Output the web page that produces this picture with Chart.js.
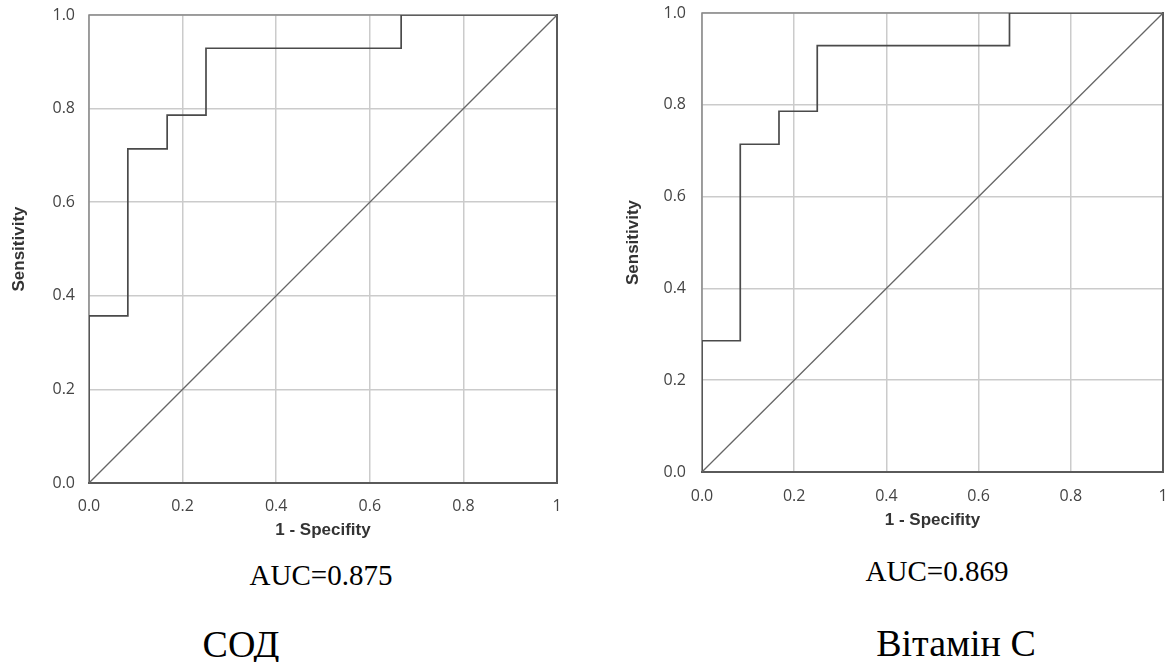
<!DOCTYPE html>
<html>
<head>
<meta charset="utf-8">
<script src="https://cdn.jsdelivr.net/npm/chart.js@4.4.1/dist/chart.umd.min.js"></script>
<style>
    html, body { margin: 0; padding: 0; background: #fff; }
    body { width: 1171px; height: 662px; position: relative; overflow: hidden; }
    canvas { position: absolute; }
    .cap {
        position: absolute;
        width: 400px;
        text-align: center;
        font-family: "Liberation Serif", "Times New Roman", serif;
        line-height: 1;
        color: #000;
        white-space: nowrap;
    }
</style>
</head>
<body>
<canvas id="sodChart" width="580" height="545" style="left:0px;top:0px"></canvas>
<canvas id="vitChart" width="571" height="545" style="left:600px;top:0px"></canvas>
<div class="cap" style="left:121px;top:561px;font-size:29px">AUC=0.875</div>
<div class="cap" style="left:737px;top:557px;font-size:29px">AUC=0.869</div>
<div class="cap" style="left:41px;top:625px;font-size:38px">СОД</div>
<div class="cap" style="left:756px;top:624px;font-size:38px">Вітамін С</div>
<script>
// ROC points (1 - specificity, sensitivity)
const sodFpr = [0, 0, 0.083, 0.167, 0.25, 0.667, 1];
const sodTpr = [0, 0.357, 0.714, 0.786, 0.929, 1, 1];
const vitFpr = [0, 0, 0.083, 0.167, 0.25, 0.667, 1];
const vitTpr = [0, 0.286, 0.714, 0.786, 0.929, 1, 1];

// reference diagonal
const refX = [0, 1];
const refY = [0, 1];

const xTickLabels = ['0.0', '0.2', '0.4', '0.6', '0.8', '1'];
const yTickLabels = ['0.0', '0.2', '0.4', '0.6', '0.8', '1.0'];

const xTitle = '1 - Specifity';
const yTitle = 'Sensitivity';

// frame round the plot area
const framePlugin = {
    id: 'frame',
    beforeDatasetsDraw(chart) {
        const { ctx, chartArea: a } = chart;
        ctx.save();
        ctx.lineCap = 'square';
        ctx.strokeStyle = '#8a8a8a';
        ctx.lineWidth = 1.5;
        ctx.beginPath();
        ctx.moveTo(a.left, a.bottom);
        ctx.lineTo(a.left, a.top);
        ctx.lineTo(a.right, a.top);
        ctx.stroke();
        ctx.strokeStyle = '#5a5a5a';
        ctx.lineWidth = 2;
        ctx.beginPath();
        ctx.moveTo(a.left, a.bottom);
        ctx.lineTo(a.right, a.bottom);
        ctx.lineTo(a.right, a.top);
        ctx.stroke();
        ctx.restore();
    }
};

function toPoints(xs, ys) {
    return xs.map((x, i) => ({ x: x, y: ys[i] }));
}

function createRocChart(canvasId, fpr, tpr, geom) {
    const ctx = document.getElementById(canvasId).getContext('2d');
    new Chart(ctx, {
        type: 'line',
        data: {
            datasets: [
                {
                    data: toPoints(refX, refY),
                    borderColor: '#666',
                    borderWidth: 1.3,
                    pointRadius: 0
                },
                {
                    data: toPoints(fpr, tpr),
                    borderColor: '#4a4a4a',
                    borderWidth: 1.7,
                    pointRadius: 0,
                    stepped: 'before'
                }
            ]
        },
        options: {
            responsive: false,
            animation: false,
            devicePixelRatio: 1,
            layout: { padding: geom.padding },
            plugins: { legend: { display: false }, tooltip: { enabled: false } },
            scales: {
                x: {
                    type: 'linear',
                    min: 0,
                    max: 1,
                    afterFit: s => {
                        s.height = geom.xHeight;
                        s.paddingLeft = 0;
                        s.paddingRight = 0;
                    },
                    border: { display: false },
                    grid: { color: '#cbcbcb', lineWidth: 1.5, drawTicks: false },
                    ticks: {
                        stepSize: 0.2,
                        autoSkip: false,
                        maxRotation: 0,
                        padding: geom.xTickPad,
                        color: '#444',
                        font: { family: 'Open Sans', size: 16 },
                        callback: (v, i) => xTickLabels[i]
                    },
                    title: {
                        display: true,
                        text: xTitle,
                        color: '#333',
                        font: { family: 'Liberation Sans', size: 17, weight: 'bold' },
                        padding: { top: 0, bottom: geom.xTitlePad }
                    }
                },
                y: {
                    type: 'linear',
                    min: 0,
                    max: 1,
                    afterFit: s => {
                        s.width = geom.yWidth;
                        s.paddingTop = 0;
                        s.paddingBottom = 0;
                    },
                    border: { display: false },
                    grid: { color: '#cbcbcb', lineWidth: 1.5, drawTicks: false },
                    ticks: {
                        stepSize: 0.2,
                        padding: geom.yTickPad,
                        color: '#444',
                        font: { family: 'Open Sans', size: 16 },
                        callback: (v, i) => yTickLabels[i]
                    },
                    title: {
                        display: true,
                        text: yTitle,
                        color: '#333',
                        font: { family: 'Liberation Sans', size: 17, weight: 'bold' },
                        padding: { top: geom.yTitlePad, bottom: 0 }
                    }
                }
            }
        },
        plugins: [framePlugin]
    });
}

createRocChart('sodChart', sodFpr, sodTpr, {
    padding: { left: 0, top: 15, right: 23, bottom: 0 },
    yWidth: 89,
    xHeight: 62,
    xTickPad: 14,
    yTickPad: 14,
    xTitlePad: 4,
    yTitlePad: 9
});

createRocChart('vitChart', vitFpr, vitTpr, {
    padding: { left: 0, top: 13, right: 8, bottom: 0 },
    yWidth: 102,
    xHeight: 73,
    xTickPad: 15,
    yTickPad: 16,
    xTitlePad: 14,
    yTitlePad: 23
});
</script>
</body>
</html>
